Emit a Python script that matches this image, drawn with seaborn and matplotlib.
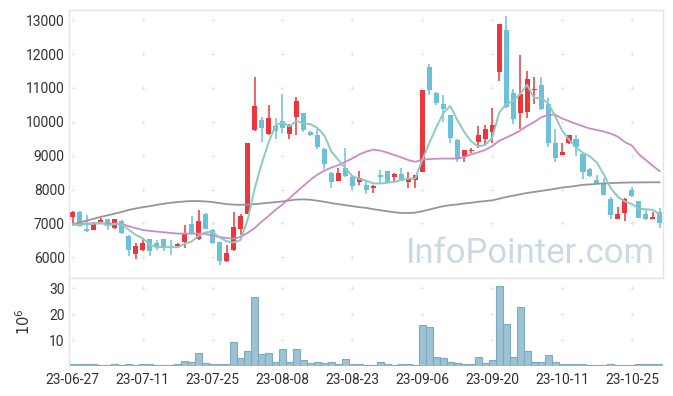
import numpy as np
import pandas as pd
import matplotlib
matplotlib.use("Agg")
import matplotlib.pyplot as plt
import seaborn as sns

dates = ["23-06-27", "23-06-28", "23-06-29", "23-06-30", "23-07-03", "23-07-04", "23-07-05", "23-07-06",
         "23-07-07", "23-07-10", "23-07-11", "23-07-12", "23-07-13", "23-07-14", "23-07-17", "23-07-18",
         "23-07-19", "23-07-20", "23-07-21", "23-07-24", "23-07-25", "23-07-26", "23-07-27", "23-07-28",
         "23-07-31", "23-08-01", "23-08-02", "23-08-03", "23-08-04", "23-08-07", "23-08-08", "23-08-09",
         "23-08-10", "23-08-11", "23-08-14", "23-08-16", "23-08-17", "23-08-18", "23-08-21", "23-08-22",
         "23-08-23", "23-08-24", "23-08-25", "23-08-28", "23-08-29", "23-08-30", "23-08-31", "23-09-01",
         "23-09-04", "23-09-05", "23-09-06", "23-09-07", "23-09-08", "23-09-11", "23-09-12", "23-09-13",
         "23-09-14", "23-09-15", "23-09-18", "23-09-19", "23-09-20", "23-09-21", "23-09-22", "23-09-25",
         "23-09-26", "23-09-27", "23-10-04", "23-10-05", "23-10-06", "23-10-10", "23-10-11", "23-10-12",
         "23-10-13", "23-10-16", "23-10-17", "23-10-18", "23-10-19", "23-10-20", "23-10-23", "23-10-24",
         "23-10-25", "23-10-26", "23-10-27", "23-10-30", "23-10-31"]

opens = [7190, 7350, 6850, 6810, 7000, 7120, 6870, 7070, 6620, 6090,
         6220, 6530, 6410, 6530, 6330, 6330, 6450, 6970, 6530, 7290,
         6820, 6440, 5890, 6220, 6840, 7280, 9760, 10040, 9650, 9870,
         10010, 9640, 10150, 10260, 9700, 9600, 9210, 8480, 8250, 8650,
         8380, 8220, 8130, 8050, 8420, 8540, 8380, 8450, 8230, 8280,
         8520, 11610, 10860, 10540, 10190, 9460, 8980, 9140, 9410, 9480,
         9690, 11470, 12700, 10860, 10260, 10290, 10940, 11100, 10540, 9380,
         9030, 9360, 9500, 9060, 8620, 8290, 8150, 7710, 7140, 7310,
         7980, 7650, 7270, 7130, 7340]
highs = [7360, 7360, 7260, 7050, 7170, 7130, 7130, 7100, 6650, 6420,
         6570, 6540, 6520, 6540, 6520, 6420, 6960, 7230, 7410, 7310,
         6830, 6460, 6370, 7330, 7290, 9370, 11320, 10130, 10490, 10120,
         10830, 9950, 10730, 10270, 9720, 9800, 9230, 8510, 8640, 9240,
         8420, 8550, 8250, 8130, 8580, 8550, 8490, 8650, 8520, 8430,
         10940, 11700, 10870, 10800, 10200, 9500, 9180, 9230, 9880, 9900,
         10420, 12890, 13110, 10980, 11970, 11490, 11320, 11310, 10710, 9800,
         9380, 9620, 9600, 9070, 8650, 8420, 8350, 7780, 7490, 7760,
         8080, 7660, 7420, 7340, 7470]
lows = [7000, 6900, 6760, 6800, 6990, 6820, 6840, 6700, 6030, 5960,
        6200, 6040, 6230, 6190, 6060, 6290, 6280, 6680, 6500, 6830,
        6400, 5780, 5870, 6180, 6670, 7270, 9740, 9400, 9600, 9500,
        9670, 9500, 9600, 9700, 9580, 9200, 8610, 8060, 8240, 8380,
        7980, 8130, 7880, 7900, 8180, 8220, 8210, 8240, 8050, 8050,
        8510, 10790, 10490, 10000, 9360, 8820, 8820, 9080, 9230, 9330,
        9360, 11200, 10400, 9950, 9800, 10100, 10520, 10360, 9260, 8820,
        9020, 9340, 8980, 8320, 8360, 8170, 7830, 7140, 7130, 7060,
        7790, 7160, 7100, 7120, 6880]
closes = [7350, 6920, 6780, 6990, 7090, 6930, 7120, 6720, 6220, 6320,
          6420, 6190, 6340, 6270, 6300, 6380, 6700, 6700, 7080, 6840,
          6420, 5890, 6140, 6900, 7210, 9360, 10460, 9820, 10100, 9730,
          9820, 9870, 10600, 9750, 9610, 9260, 8760, 8230, 8500, 8390,
          8110, 8330, 7980, 8100, 8370, 8230, 8460, 8250, 8310, 8420,
          10930, 10950, 10560, 10380, 9510, 8900, 9160, 9170, 9600, 9780,
          9900, 12880, 10430, 10080, 10810, 11250, 10960, 10380, 9360, 8920,
          9110, 9600, 9260, 8520, 8390, 8180, 7840, 7240, 7270, 7710,
          7800, 7170, 7140, 7190, 7000]
volumes = [0.9, 0.9, 0.6, 0.6, 0.4, 0.4, 0.6, 0.4, 0.9, 0.4,
           0.6, 0.6, 0.4, 0.4, 0.4, 0.6, 2.0, 1.7, 5.1, 1.3,
           0.6, 0.9, 0.6, 9.4, 3.2, 5.9, 26.7, 4.7, 5.1, 1.7,
           6.7, 1.7, 6.7, 2.4, 1.3, 1.7, 1.3, 1.7, 0.9, 2.8,
           0.9, 0.9, 0.4, 0.4, 1.7, 0.6, 0.4, 0.6, 0.6, 0.4,
           15.9, 15.1, 3.6, 3.2, 1.7, 1.3, 0.9, 0.6, 3.6, 1.3,
           2.4, 30.9, 16.3, 3.6, 22.8, 5.9, 1.7, 1.7, 4.4, 1.7,
           0.6, 0.9, 0.6, 0.6, 0.4, 0.4, 0.4, 0.9, 0.4, 0.4,
           0.4, 0.6, 0.9, 0.6, 0.6]
# moving averages as drawn (longer windows reach back before the visible period)
ma5_head = [6950, 6960, 6980, 6990]
ma20 = [6975, 6990, 7000, 7000, 7000, 7000, 6995, 6980, 6920, 6860,
        6810, 6780, 6760, 6740, 6720, 6700, 6700, 6700, 6700, 6690,
        6640, 6600, 6570, 6550, 6600, 6720, 6860, 7050, 7220, 7400,
        7560, 7740, 7930, 8110, 8290, 8440, 8560, 8650, 8720, 8820,
        8920, 9040, 9120, 9180, 9150, 9090, 9020, 8950, 8870, 8820,
        8880, 8900, 8910, 8915, 8915, 8915, 8960, 9040, 9100, 9170,
        9280, 9440, 9530, 9630, 9740, 9880, 9990, 10130, 10200, 10210,
        10100, 10020, 9940, 9870, 9800, 9760, 9710, 9650, 9560, 9400,
        9300, 9040, 8870, 8700, 8540]
ma60 = [6975, 7030, 7085, 7140, 7195, 7240, 7290, 7340, 7400, 7440,
        7480, 7510, 7550, 7580, 7610, 7630, 7650, 7660, 7660, 7650,
        7630, 7600, 7570, 7555, 7550, 7555, 7570, 7590, 7610, 7630,
        7650, 7680, 7705, 7710, 7700, 7670, 7640, 7600, 7570, 7540,
        7510, 7480, 7460, 7420, 7390, 7360, 7330, 7310, 7305, 7320,
        7360, 7410, 7460, 7510, 7540, 7560, 7590, 7610, 7640, 7660,
        7680, 7730, 7780, 7820, 7860, 7900, 7930, 7960, 7990, 8020,
        8060, 8080, 8110, 8140, 8150, 8170, 8180, 8190, 8200, 8205,
        8210, 8212, 8214, 8215, 8215]
price_ticks = [6000, 7000, 8000, 9000, 10000, 11000, 12000, 13000]
vol_ticks = [10, 20, 30]

df = pd.DataFrame({"date": dates, "open": opens, "high": highs, "low": lows,
                   "close": closes, "volume": volumes, "ma20": ma20, "ma60": ma60})
df["i"] = np.arange(len(df))
ma5 = df["close"].rolling(5).mean()
ma5.iloc[:len(ma5_head)] = ma5_head
df["ma5"] = ma5

sns.set_theme(style="white")
plt.rcParams["font.family"] = ["Roboto", "DejaVu Sans"]

W, H = 673, 396
fig = plt.figure(figsize=(W / 100, H / 100), dpi=100)
L, R = 69, 663
ax = fig.add_axes([L / W, 1 - 278 / H, (R - L) / W, 268 / H])
axv = fig.add_axes([L / W, 1 - 366 / H, (R - L) / W, 88 / H], sharex=ax)

RED = "#ea373c"
BLUE = "#6cc0da"
up = df["close"] >= df["open"]
cols = np.where(up, RED, BLUE)

# grid "+" marks
xt = list(range(0, 85, 10))
gx, gy = np.meshgrid(xt, price_ticks)
ax.scatter(gx.ravel(), gy.ravel(), marker="+", s=12, color="#e6e6e6", linewidths=0.7, zorder=0)
gx2, gy2 = np.meshgrid(xt, vol_ticks)
axv.scatter(gx2.ravel(), gy2.ravel(), marker="+", s=12, color="#e6e6e6", linewidths=0.7, zorder=0)

# candles
ax.vlines(df["i"], df["low"], df["high"], color=cols, linewidth=1.1, zorder=2)
body_lo = np.minimum(df["open"], df["close"])
body_h = np.maximum(np.abs(df["close"] - df["open"]), 25)
ax.bar(df["i"], body_h, bottom=body_lo, width=0.72, color=cols, linewidth=0, zorder=2)

# moving averages
sns.lineplot(data=df, x="i", y="ma60", ax=ax, color="#969696", linewidth=1.3, zorder=3)
sns.lineplot(data=df, x="i", y="ma20", ax=ax, color="#cc8bc4", linewidth=1.3, zorder=3)
sns.lineplot(data=df, x="i", y="ma5", ax=ax, color="#8ccac0", linewidth=1.4, zorder=4)

ax.text(0.987, 0.03, "InfoPointer.com", transform=ax.transAxes, ha="right", va="bottom",
        fontsize=25, color="#c9dae4", zorder=1)

ax.set_xlim(-0.55, 84.45)
ax.set_ylim(5390, 13300)
ax.set_yticks(price_ticks)
ax.set_yticklabels([str(t) for t in price_ticks])
ax.set_xlabel("")
ax.set_ylabel("")
ax.tick_params(axis="y", length=0, pad=3, labelsize=10, labelcolor="#333333")
ax.tick_params(axis="x", length=0, labelbottom=False)

# volume
axv.bar(df["i"], df["volume"], width=1.0, color="#9cc2d3", edgecolor="#7ea9c0", linewidth=0.8, zorder=2)
axv.set_ylim(0, 34)
axv.set_yticks(vol_ticks)
axv.set_yticklabels([str(t) for t in vol_ticks])
axv.set_xticks(xt)
axv.set_xticklabels([dates[k] for k in xt])
axv.tick_params(axis="both", length=0, labelsize=10, labelcolor="#333333")
axv.tick_params(axis="y", pad=3)
axv.tick_params(axis="x", pad=5)
axv.set_xlabel("")
axv.set_ylabel("$10^6$", fontsize=10.5, color="#333333")
axv.yaxis.set_label_coords((33 - L) / (R - L), 0.5)

for a in (ax, axv):
    for s in a.spines.values():
        s.set_color("#e4e4e4")
        s.set_linewidth(1.0)
axv.spines["bottom"].set_visible(False)
axv.spines["right"].set_visible(False)

fig.savefig("out.png", dpi=100)
